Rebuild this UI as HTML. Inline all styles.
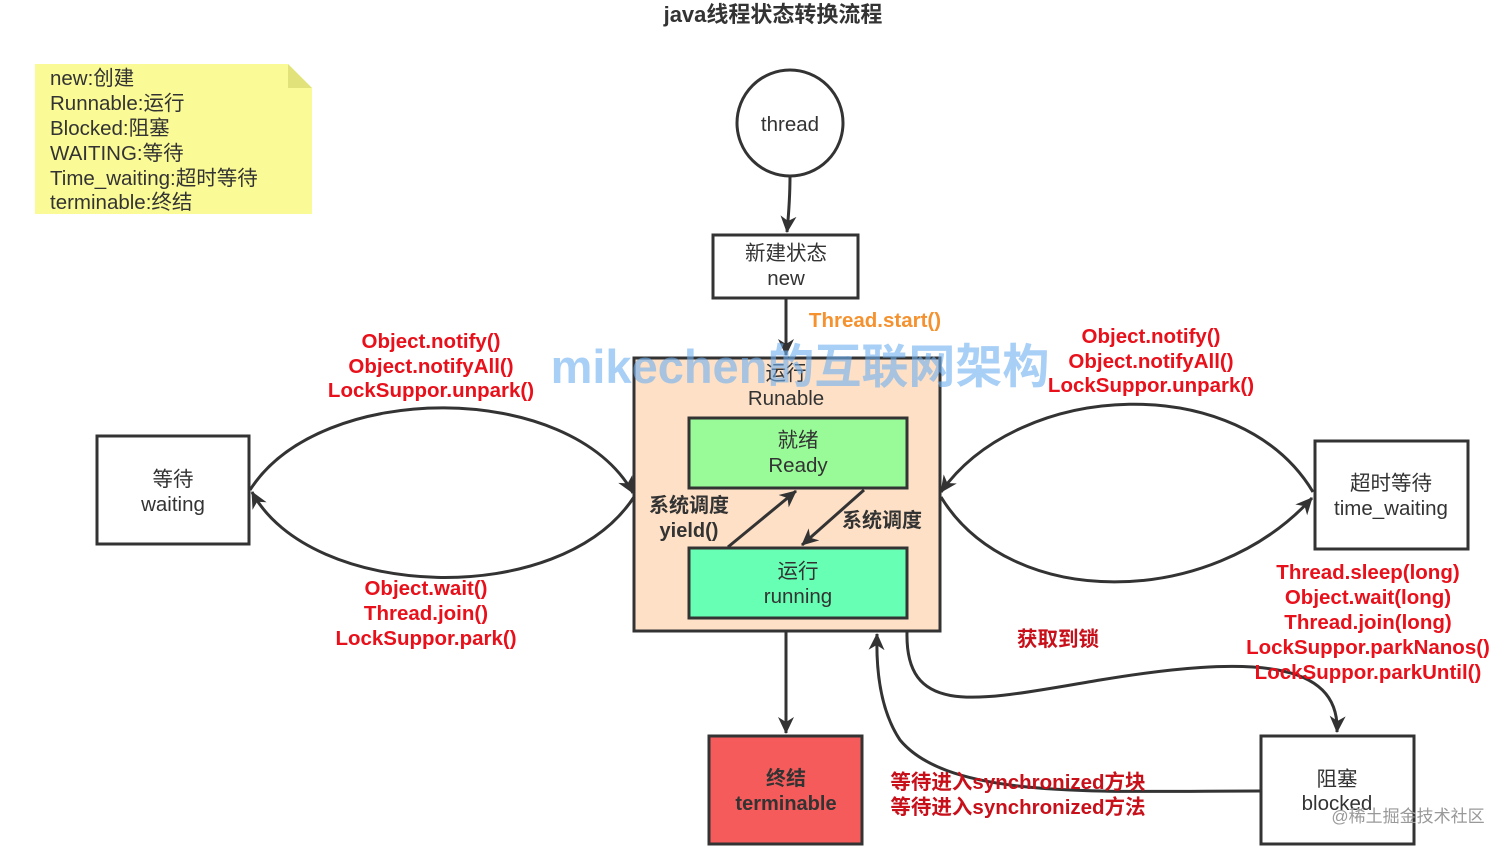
<!DOCTYPE html>
<html><head><meta charset="utf-8"><style>
html,body{margin:0;padding:0;background:#fff;}
svg{display:block;}
text{font-family:"Liberation Sans","Noto Sans CJK SC",sans-serif;}
.n{font-size:20.5px;fill:#333;text-anchor:middle;}
.r{font-size:20.5px;fill:#e8101a;font-weight:bold;text-anchor:middle;}
.b{font-size:20px;fill:#333;font-weight:bold;text-anchor:middle;}
</style></head><body>
<svg width="1512" height="850" viewBox="0 0 1512 850" xmlns="http://www.w3.org/2000/svg">
<defs>
<marker id="A" markerWidth="18" markerHeight="18" refX="16" refY="9" orient="auto" markerUnits="userSpaceOnUse"><path d="M0,1 L17,9 L0,17 L5,9 z" fill="#333"/></marker></defs>
<text x="773" y="22" style="font-size:22px;font-weight:bold;fill:#333" text-anchor="middle">java线程状态转换流程</text>
<path d="M35,64 H288 L312,88 V214 H35 Z" fill="#fafa96"/>
<path d="M288,64 V88 H312 Z" fill="#e2e27a"/>
<g style="font-size:20.5px;fill:#333">
<text x="50" y="85">new:创建</text><text x="50" y="110">Runnable:运行</text><text x="50" y="135">Blocked:阻塞</text><text x="50" y="160">WAITING:等待</text><text x="50" y="185">Time_waiting:超时等待</text><text x="50" y="209">terminable:终结</text></g>
<g stroke="#333" stroke-width="3" fill="none">
<circle cx="790" cy="123" r="53" fill="#fff"/>
<path d="M790,176 Q790,200 787,232" marker-end="url(#A)"/>
<rect x="713" y="235" width="145" height="63" fill="#fff"/>
<path d="M786,298 V355" marker-end="url(#A)"/>
<rect x="634" y="358" width="306" height="273" fill="#fde0c6"/>
<rect x="689" y="418" width="218" height="70" fill="#98fb98"/>
<rect x="689" y="548" width="218" height="70" fill="#66ffb3"/>
<path d="M728,547 L796,491" marker-end="url(#A)"/>
<path d="M864,490 L802,545" marker-end="url(#A)"/>
<rect x="97" y="436" width="152" height="108" fill="#fff"/>
<rect x="1315" y="441" width="153" height="108" fill="#fff"/>
<path d="M250,490 C320,380 570,380 633,493" marker-end="url(#A)"/>
<path d="M634,497 C560,610 310,600 252,492" marker-end="url(#A)"/>
<path d="M1313,492 C1240,370 1020,380 941,492" marker-end="url(#A)"/>
<path d="M941,497 C1010,610 1210,610 1312,498" marker-end="url(#A)"/>
<path d="M786,632 V733" marker-end="url(#A)"/>
<rect x="709" y="736" width="153" height="108" fill="#f55b5b"/>
<rect x="1261" y="736" width="153" height="108" fill="#fff"/>
<path d="M907,632 C905,720 980,700 1100,680 C1250,655 1340,660 1337,732" marker-end="url(#A)"/>
<path d="M1260,791 C1100,791 950,800 900,740 C880,710 876,670 877,634" marker-end="url(#A)"/>
</g>
<text class="n" x="790" y="131">thread</text>
<text class="n" x="786" y="260">新建状态</text><text class="n" x="786" y="285">new</text>
<text class="n" x="786" y="380">运行</text><text class="n" x="786" y="405">Runable</text>
<text class="n" x="798" y="447">就绪</text><text class="n" x="798" y="472">Ready</text>
<text class="n" x="798" y="578">运行</text><text class="n" x="798" y="603">running</text>
<text class="n" x="173" y="486">等待</text><text class="n" x="173" y="511">waiting</text>
<text class="n" x="1391" y="490">超时等待</text><text class="n" x="1391" y="515">time_waiting</text>
<text class="n" x="1337" y="786">阻塞</text><text class="n" x="1337" y="810">blocked</text>
<text class="b" x="786" y="785">终结</text><text class="b" x="786" y="810">terminable</text>
<text class="b" x="689" y="512">系统调度</text><text class="b" x="689" y="537">yield()</text>
<text class="b" x="882" y="527">系统调度</text>
<text x="875" y="327" style="font-size:20.5px;font-weight:bold;fill:#f5922f" text-anchor="middle">Thread.start()</text>
<text class="r" x="431" y="348">Object.notify()</text><text class="r" x="431" y="373">Object.notifyAll()</text><text class="r" x="431" y="397">LockSuppor.unpark()</text>
<text class="r" x="1151" y="343">Object.notify()</text><text class="r" x="1151" y="368">Object.notifyAll()</text><text class="r" x="1151" y="392">LockSuppor.unpark()</text>
<text class="r" x="426" y="595">Object.wait()</text><text class="r" x="426" y="620">Thread.join()</text><text class="r" x="426" y="645">LockSuppor.park()</text>
<text class="r" x="1368" y="579">Thread.sleep(long)</text><text class="r" x="1368" y="604">Object.wait(long)</text><text class="r" x="1368" y="629">Thread.join(long)</text><text class="r" x="1368" y="654">LockSuppor.parkNanos()</text><text class="r" x="1368" y="679">LockSuppor.parkUntil()</text>
<text class="r" x="1058" y="646" style="fill:#c8101a">获取到锁</text>
<text class="r" x="1018" y="789" style="fill:#c8101a">等待进入synchronized方块</text><text class="r" x="1018" y="814" style="fill:#c8101a">等待进入synchronized方法</text>
<text x="800" y="383" style="font-size:47px;font-weight:bold;fill:#6fb0f0;opacity:0.6" text-anchor="middle">mikechen的互联网架构</text>
<text x="1408" y="822" style="font-size:17px;fill:#999" text-anchor="middle">@稀土掘金技术社区</text>
</svg>
</body></html>
